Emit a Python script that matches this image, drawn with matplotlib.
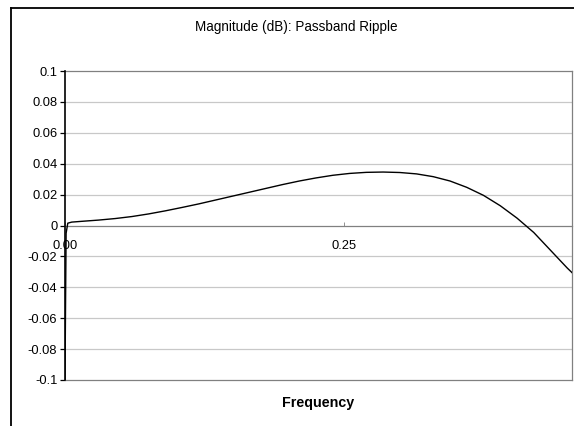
import matplotlib
matplotlib.use('Agg')
import matplotlib.pyplot as plt
from matplotlib.lines import Line2D

plt.rcParams['font.family'] = ['Liberation Sans', 'DejaVu Sans']

# values
freq = [0, 0.0005, 0.001, 0.0025, 0.006, 0.015, 0.03, 0.045, 0.06, 0.075, 0.09,
        0.105, 0.12, 0.135, 0.15, 0.165, 0.18, 0.195, 0.21, 0.225, 0.24, 0.255,
        0.27, 0.285, 0.30, 0.315, 0.33, 0.345, 0.36, 0.375, 0.39, 0.405, 0.42,
        0.435, 0.45, 0.4543]
mag = [-0.1, -0.05, -0.005, 0.0015, 0.0022, 0.0027, 0.0035, 0.0045, 0.0058,
       0.0075, 0.0095, 0.0117, 0.014, 0.0165, 0.019, 0.0215, 0.024, 0.0265,
       0.0288, 0.0308, 0.0325, 0.0337, 0.0344, 0.0346, 0.0343, 0.0334, 0.0316,
       0.0288, 0.0247, 0.0195, 0.0128, 0.0048, -0.0045, -0.016, -0.0275, -0.0305]
y_ticks = [-0.1, -0.08, -0.06, -0.04, -0.02, 0, 0.02, 0.04, 0.06, 0.08, 0.1]
y_labels = ['-0.1', '-0.08', '-0.06', '-0.04', '-0.02', '0', '0.02', '0.04', '0.06', '0.08', '0.1']
x_ticks = [0.0, 0.25]
x_labels = ['0.00', '0.25']

W, H = 574, 426
fig = plt.figure(figsize=(W / 100, H / 100), dpi=100)
ax = fig.add_axes([65 / W, (H - 380) / H, (572 - 65) / W, (380 - 71) / H])

# chart area border (left and top only visible)
fig.add_artist(Line2D([11 / W, 11 / W], [0, 1 - 7.5 / H], transform=fig.transFigure, color='black', lw=1.3))
fig.add_artist(Line2D([11 / W, 1], [1 - 7.5 / H, 1 - 7.5 / H], transform=fig.transFigure, color='black', lw=1.3))

ax.set_xlim(0, 0.4543)
ax.set_ylim(-0.1, 0.1)

# gridlines
for t in y_ticks:
    if t not in (0, 0.1, -0.1):
        ax.axhline(t, color='#c8c8c8', lw=0.9, zorder=1)
# plot area border at the bottom
ax.axhline(-0.1, color='#808080', lw=0.9, zorder=2, clip_on=False)

ax.plot(freq, mag, color='black', lw=1.0, zorder=3)

for s in ['top', 'right']:
    ax.spines[s].set_color('#808080')
    ax.spines[s].set_linewidth(0.9)
ax.spines['left'].set_color('black')
ax.spines['left'].set_linewidth(1.2)
ax.spines['left'].set_zorder(4)

# x axis crosses at y = 0
ax.spines['bottom'].set_position(('data', 0))
ax.spines['bottom'].set_color('#808080')
ax.spines['bottom'].set_linewidth(0.9)

ax.set_yticks(y_ticks)
ax.set_yticklabels(y_labels)
ax.tick_params(axis='y', direction='out', length=3.5, width=0.9, labelsize=9.3, pad=2, color='black')

ax.set_xticks(x_ticks)
ax.set_xticklabels(x_labels)
ax.tick_params(axis='x', direction='in', length=3, width=0.6, color='#808080', labelsize=9.3, pad=10.5)

fig.text(296 / W, 1 - 27 / H, 'Magnitude (dB): Passband Ripple', ha='center', va='center', fontsize=9.75)
fig.text(318 / W, 1 - 403 / H, 'Frequency', ha='center', va='center', fontsize=10.3, fontweight='bold')

fig.savefig('out.png', dpi=100)
